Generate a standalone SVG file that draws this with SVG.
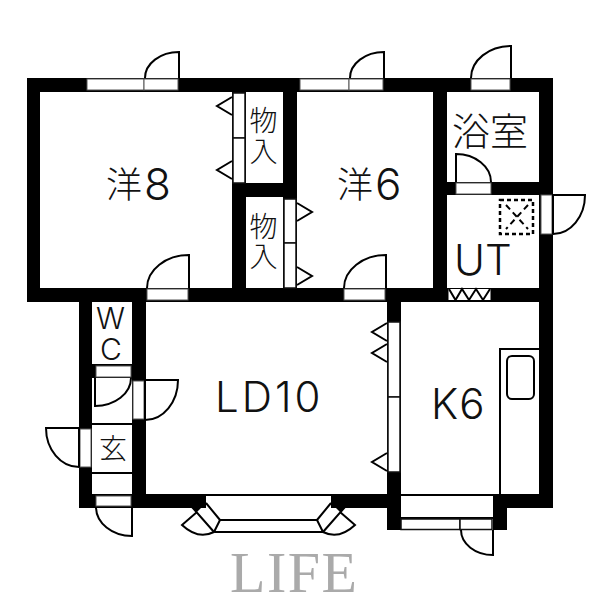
<svg xmlns="http://www.w3.org/2000/svg" width="600" height="600" viewBox="0 0 600 600">
<style>
.wall{fill:#000}
.room{fill:#fff}
.pane{fill:#fff;stroke:#555;stroke-width:1}
.inn{fill:#fff;stroke:#111;stroke-width:1.5}
.ln{fill:none;stroke:#000;stroke-width:2}
.tri{fill:#fff;stroke:#000;stroke-width:2}
.t{font-family:Inter,"Liberation Sans",sans-serif;font-weight:300;fill:#111}
.j{font-family:"Noto Sans CJK JP",sans-serif;font-weight:300;fill:#111}
</style>
<rect width="600" height="600" fill="#fff"/>
<g id="walls">
<path class="wall" d="M27 78H553V508H507V530H493V508H401V530H387V508H206V508H79V302H27Z"/>
<path class="room" d="M40 92H232V288H40Z"/>
<path class="room" d="M246 92H283V183H246Z"/>
<path class="room" d="M246 197H283V288H246Z"/>
<path class="room" d="M297 92H433V288H297Z"/>
<path class="room" d="M447 92H539V182H447Z"/>
<path class="room" d="M447 195H539V288H447Z"/>
<path class="room" d="M92 302H132V364H92Z"/>
<path class="room" d="M92 378H132V494H92Z"/>
<path class="room" d="M146 302H387V494H146Z"/>
<path class="room" d="M401 302H539V494H401Z"/>
<path class="room" d="M206 496H331V508H317V521H220V508H206Z"/>
<path class="room" d="M401 496H493V530H401Z"/>
<path class="wall" d="M190 500H206V503L197 512L191 506Z"/>
<path class="wall" d="M347 500H331V503L340 512L346 506Z"/>
<path class="ln" d="M206 495H331M401 495H493M401 518H493"/>
</g>
<g id="windows">
<rect class="pane" x="87" y="79" width="57" height="11"/><rect class="pane" x="144" y="79" width="34" height="11"/>
<rect class="pane" x="300" y="79" width="49" height="11"/><rect class="pane" x="349" y="79" width="34" height="11"/>
<rect class="pane" x="471" y="79" width="39" height="11"/>
<rect class="pane" x="147" y="289" width="41" height="11"/>
<rect class="pane" x="344" y="289" width="41" height="11"/>
<rect class="pane" x="456" y="183" width="35" height="11"/>
<rect class="pane" x="541" y="195" width="11" height="39"/>
<rect class="pane" x="96" y="366" width="35" height="11"/>
<rect class="pane" x="133" y="381" width="11" height="38"/>
<rect class="pane" x="80" y="429" width="11" height="38"/>
<rect class="pane" x="96" y="496" width="35" height="10"/>
<rect class="inn" x="401" y="519" width="59" height="10.500"/><rect class="inn" x="460" y="519" width="32" height="10.500"/>
<rect class="inn" x="233" y="93" width="12" height="45"/><rect class="inn" x="233" y="138" width="12" height="45"/>
<rect class="inn" x="284" y="199" width="12" height="44"/><rect class="inn" x="284" y="243" width="12" height="45"/>
<rect class="inn" x="388" y="322" width="12" height="75"/><rect class="inn" x="388" y="397" width="12" height="75"/>
<rect class="room" x="448.500" y="289" width="42" height="11"/>
<path class="ln" d="M449 289L455.500 300L462 289L469 300L476 289L483 300L490 289"/>
</g>
<g id="doors">
<path class="ln" d="M179 78V52A34 26 0 0 0 145 78"/>
<path class="ln" d="M189 288V255A42 33 0 0 0 147 288"/>
<path class="ln" d="M384 78V52A34 26 0 0 0 350 78"/>
<path class="ln" d="M386 288V255A42 33 0 0 0 344 288"/>
<path class="ln" d="M511 78V46A40 32 0 0 0 471 78"/>
<path class="ln" d="M456 182V154A35 28 0 0 1 491 182"/>
<path class="ln" d="M553 234V195H585A32 39 0 0 1 553 234"/>
<path class="ln" d="M95 378V406A36 28 0 0 0 131 378"/>
<path class="ln" d="M145 420V380H178A33 40 0 0 1 145 420"/>
<path class="ln" d="M79 467V428H46A33 39 0 0 0 79 467"/>
<path class="ln" d="M132 507V536A36 29 0 0 1 96 507"/>
<path class="ln" d="M493 530V555A32 25 0 0 1 461 530"/>
<path class="ln" d="M220 520H317M214 532H323M220 520L214 532M317 520L323 532"/>
<path class="ln" d="M206 503L220 520M192 507L214 532M197 512L182 525Q198 540 214 532"/>
<path class="ln" d="M331 503L317 520M345 507L323 532M340 512L355 525Q339 540 323 532"/>
</g>
<g id="fixtures">
<path class="tri" d="M232 97L217 106L232 115M232 161L217 170L232 179"/>
<path class="tri" d="M297 203L312 212L297 221M297 267L312 276L297 285"/>
<path class="tri" d="M387 323L372 332L387 341M387 344L372 353L387 362M387 453L372 462L387 471"/>
<path class="ln" d="M92 424H132M92 473H132"/>
<path class="ln" d="M500 494V349H539"/>
<rect x="507" y="356" width="27" height="43" rx="5" class="ln"/>
<rect x="500" y="200" width="33" height="34" fill="none" stroke="#000" stroke-width="2.500" stroke-dasharray="4 3"/>
<path class="ln" stroke-dasharray="6 4" d="M506 205L528 229M528 205L506 229"/>
</g>
<g id="labels">
<text class="j" x="106" y="198" font-size="36">洋</text><text class="t" x="144" y="200" font-size="44">8</text>
<text class="j" x="337" y="198" font-size="36">洋</text><text class="t" x="375" y="200" font-size="44">6</text>
<text class="j" font-size="28"><tspan x="249.500" y="131">物</tspan><tspan x="249.500" y="162">入</tspan></text>
<text class="j" font-size="28"><tspan x="249.500" y="237">物</tspan><tspan x="249.500" y="267">入</tspan></text>
<text class="j" x="452" y="145" font-size="38">浴室</text>
<text class="t" x="454" y="275" font-size="42">UT</text>
<text class="t" font-size="30"><tspan x="96" y="329">W</tspan><tspan x="100" y="360">C</tspan></text>
<text class="j" x="99" y="459" font-size="28">玄</text>
<text class="t" x="215" y="412" font-size="42" letter-spacing="3">LD10</text>
<text class="t" x="431" y="419" font-size="42" letter-spacing="1">K6</text>
<text x="230" y="592" font-family="'Liberation Serif',serif" font-size="58" letter-spacing="1.500" fill="#aaa">LIFE</text>
</g>
</svg>
